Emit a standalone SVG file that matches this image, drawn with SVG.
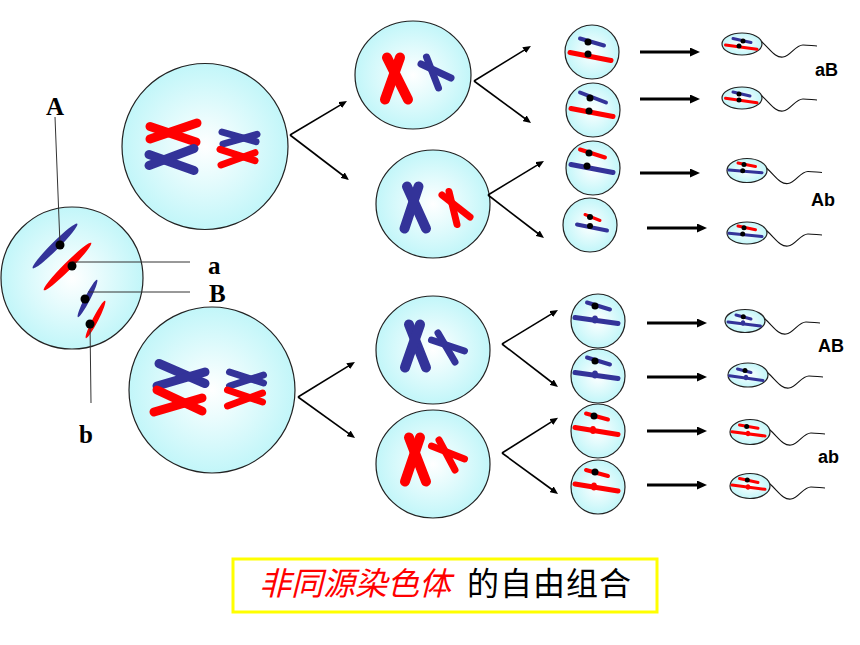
<svg xmlns="http://www.w3.org/2000/svg" xmlns:xlink="http://www.w3.org/1999/xlink" width="860" height="645" viewBox="0 0 860 645">
<defs>
<radialGradient id="cellg" cx="50%" cy="50%" r="50%">
<stop offset="0" stop-color="#FFFFFF"/>
<stop offset="1" stop-color="#C2F6F9"/>
</radialGradient>
<marker id="ah" viewBox="0 0 10 9" markerWidth="10" markerHeight="9" refX="4" refY="4.5" markerUnits="userSpaceOnUse" orient="auto"><path d="M0,0 L10,4.5 L0,9 z" fill="#000"/></marker>
<marker id="ab" viewBox="0 0 8 7" markerWidth="8" markerHeight="7" refX="3" refY="3.5" markerUnits="userSpaceOnUse" orient="auto"><path d="M0,0 L8,3.5 L0,7 z" fill="#000"/></marker>
<path id="tail" d="M19,-3 C29,6 33,14 41,13 C49,12 53,1 61,1 C67,1 71,2 75,2" fill="none" stroke="#111" stroke-width="1.1"/>
</defs>
<style>
.cell{fill:url(#cellg);stroke:#222;stroke-width:1.2}
.r{stroke:#FF0000;stroke-linecap:round;fill:none}
.b{stroke:#333399;stroke-linecap:round;fill:none}
.rf{fill:#FF0000}
.bf{fill:#333399}
.dot{fill:#000}
.w10{stroke-width:10}.w9{stroke-width:9}.w7{stroke-width:7}.w6{stroke-width:6}.w5{stroke-width:5}.w4{stroke-width:4}.w3{stroke-width:3}
.lead{stroke:#333;stroke-width:1;fill:none}
.lbl{font-family:"Liberation Serif",serif;font-weight:bold;font-size:25px;fill:#000}
.gl{font-family:"Liberation Sans",Arial,sans-serif;font-weight:bold;font-size:18px;fill:#000}
.ha{stroke:#000;stroke-width:3;marker-end:url(#ah)}
.ba{stroke:#000;stroke-width:1.6;marker-end:url(#ab)}
</style>
<rect width="860" height="645" fill="#fff"/>

<g id="parent-cell">
<circle class="cell" cx="72" cy="278" r="71"/>
<ellipse class="bf" cx="55" cy="246" rx="31.5" ry="3.8" transform="rotate(-45 55 246)"/>
<ellipse class="rf" cx="67.5" cy="266.5" rx="33.5" ry="3.8" transform="rotate(-45 67.5 266.5)"/>
<ellipse class="bf" cx="87.5" cy="298.5" rx="21" ry="2.8" transform="rotate(-62.8 87.5 298.5)"/>
<ellipse class="rf" cx="95.5" cy="319.5" rx="21" ry="2.8" transform="rotate(-62.8 95.5 319.5)"/>
<line class="lead" x1="55" y1="117" x2="60" y2="245"/>
<line class="lead" x1="72" y1="262" x2="190" y2="262"/>
<line class="lead" x1="88" y1="292" x2="190" y2="292"/>
<line class="lead" x1="90" y1="324" x2="91" y2="403"/>
<circle class="dot" cx="60" cy="245" r="4.5"/>
<circle class="dot" cx="72" cy="266" r="4.5"/>
<circle class="dot" cx="85" cy="299" r="4.5"/>
<circle class="dot" cx="90" cy="324" r="4.5"/>
<text class="lbl" x="46" y="115">A</text>
<text class="lbl" x="208" y="274">a</text>
<text class="lbl" x="209" y="302">B</text>
<text class="lbl" x="79" y="443">b</text>
</g>

<g id="meiosis1-top">
<circle class="cell" cx="205" cy="146.5" r="83"/>
<line class="r w9" x1="150" y1="126.5" x2="196" y2="142"/>
<line class="r w9" x1="150" y1="139" x2="197" y2="123"/>
<line class="b w9" x1="149" y1="154.5" x2="194" y2="170.5"/>
<line class="b w9" x1="149" y1="165.5" x2="194" y2="148.5"/>
<line class="b w7" x1="222" y1="132" x2="256" y2="141.7"/>
<line class="b w7" x1="223" y1="144" x2="257" y2="134.3"/>
<line class="r w7" x1="220" y1="149.3" x2="255" y2="160.7"/>
<line class="r w7" x1="221" y1="165" x2="255" y2="152.7"/>
</g>

<g id="meiosis1-bottom">
<circle class="cell" cx="212" cy="390" r="83"/>
<line class="b w9" x1="159" y1="363.5" x2="205" y2="383.5"/>
<line class="b w9" x1="157" y1="386" x2="205" y2="372"/>
<line class="r w9" x1="157" y1="390" x2="202" y2="411"/>
<line class="r w9" x1="154" y1="412" x2="202" y2="398"/>
<line class="b w7" x1="229.5" y1="372" x2="263.5" y2="383"/>
<line class="b w7" x1="229.5" y1="386" x2="263.5" y2="375"/>
<line class="r w7" x1="227.5" y1="390" x2="262.5" y2="402"/>
<line class="r w7" x1="227.5" y1="406" x2="262.5" y2="393"/>
</g>

<g id="meiosis2-1">
<ellipse class="cell" cx="413" cy="75" rx="58" ry="54"/>
<line class="r w10" x1="387" y1="57.5" x2="408" y2="99.5"/>
<line class="r w10" x1="400" y1="57.5" x2="385" y2="99.5"/>
<line class="b w7" x1="421" y1="64" x2="451" y2="78"/>
<line class="b w7" x1="426.5" y1="57" x2="438.5" y2="88"/>
</g>

<g id="meiosis2-2">
<ellipse class="cell" cx="433" cy="204" rx="57" ry="54"/>
<line class="b w10" x1="407" y1="186.5" x2="426" y2="228.5"/>
<line class="b w10" x1="418.5" y1="186.5" x2="404.5" y2="228.5"/>
<line class="r w7" x1="442" y1="195" x2="470" y2="217"/>
<line class="r w7" x1="449" y1="191.5" x2="457" y2="224.5"/>
</g>

<g id="meiosis2-3">
<ellipse class="cell" cx="433" cy="350" rx="57" ry="54"/>
<line class="b w10" x1="409" y1="324.5" x2="426" y2="367.5"/>
<line class="b w10" x1="420" y1="324.5" x2="405" y2="367.5"/>
<line class="b w7" x1="431.5" y1="340" x2="464.5" y2="351"/>
<line class="b w7" x1="438" y1="333" x2="455" y2="362"/>
</g>

<g id="meiosis2-4">
<ellipse class="cell" cx="433" cy="464" rx="57" ry="54"/>
<line class="r w10" x1="409" y1="437.5" x2="426" y2="481.5"/>
<line class="r w10" x1="420" y1="437.5" x2="405" y2="481.5"/>
<line class="r w7" x1="431.5" y1="446" x2="464.5" y2="459"/>
<line class="r w7" x1="439" y1="440" x2="455" y2="470"/>
</g>

<g id="spermatid-1">
<circle class="cell" cx="592" cy="52" r="27"/>
<line class="b w4" x1="580" y1="38.5" x2="604" y2="45.5"/>
<line class="r w5" x1="570" y1="52.5" x2="611" y2="60.5"/>
<circle class="dot" cx="588" cy="42" r="3.5"/><circle class="dot" cx="588" cy="54" r="3.5"/>
</g>
<g id="spermatid-2">
<circle class="cell" cx="593" cy="110" r="27"/>
<line class="b w4" x1="580" y1="92.5" x2="606" y2="102.5"/>
<line class="r w5" x1="571" y1="108.5" x2="613" y2="116.5"/>
<circle class="dot" cx="590" cy="98" r="3.5"/><circle class="dot" cx="589" cy="111" r="3.5"/>
</g>
<g id="spermatid-3">
<circle class="cell" cx="593" cy="168" r="27"/>
<line class="r w4" x1="580" y1="149.5" x2="605" y2="157.5"/>
<line class="b w5" x1="571" y1="164.5" x2="613" y2="172.5"/>
<circle class="dot" cx="589" cy="153" r="3.5"/><circle class="dot" cx="587" cy="166" r="3.5"/>
</g>
<g id="spermatid-4">
<circle class="cell" cx="590" cy="225" r="27"/>
<line class="r w3" x1="585" y1="214.5" x2="600" y2="220.5"/>
<line class="b w4" x1="577" y1="224.5" x2="607" y2="230.5"/>
<circle class="dot" cx="590" cy="217" r="3"/><circle class="dot" cx="590" cy="226" r="3"/>
</g>
<g id="spermatid-5">
<circle class="cell" cx="598" cy="321" r="27"/>
<line class="b w4" x1="587" y1="302.5" x2="610" y2="309.5"/>
<line class="b w5" x1="575" y1="317.5" x2="618" y2="323.5"/>
<ellipse class="bf" cx="595" cy="319.5" rx="3" ry="4"/>
<circle class="dot" cx="595" cy="306" r="3.5"/>
</g>
<g id="spermatid-6">
<circle class="cell" cx="598" cy="376" r="27"/>
<line class="b w4" x1="587" y1="357.5" x2="610" y2="364.5"/>
<line class="b w5" x1="575" y1="372.5" x2="618" y2="378.5"/>
<ellipse class="bf" cx="595" cy="374.5" rx="3" ry="4"/>
<circle class="dot" cx="595" cy="361" r="3.5"/>
</g>
<g id="spermatid-7">
<circle class="cell" cx="598" cy="431" r="27"/>
<line class="r w4" x1="586" y1="413.5" x2="608" y2="419.5"/>
<line class="r w5" x1="575" y1="427.5" x2="618" y2="434.5"/>
<ellipse class="rf" cx="593" cy="430" rx="3" ry="4"/>
<circle class="dot" cx="594" cy="416" r="3.5"/>
</g>
<g id="spermatid-8">
<circle class="cell" cx="598" cy="487" r="27"/>
<line class="r w4" x1="586" y1="470" x2="608" y2="476"/>
<line class="r w5" x1="575" y1="484" x2="618" y2="491"/>
<ellipse class="rf" cx="594" cy="486.5" rx="3" ry="4"/>
<circle class="dot" cx="595" cy="472" r="3.5"/>
</g>

<g id="sperm-1">
<use xlink:href="#tail" href="#tail" transform="translate(742,44)"/>
<ellipse class="cell" cx="742" cy="44" rx="20" ry="11"/>
<line class="b w3" x1="733" y1="38.5" x2="751" y2="42.5"/>
<line class="r w3" x1="725.5" y1="45" x2="757" y2="49.3"/>
<circle class="dot" cx="743" cy="41" r="2.5"/><circle class="dot" cx="739" cy="46" r="2.5"/>
</g>
<g id="sperm-2">
<use xlink:href="#tail" href="#tail" transform="translate(742,98)"/>
<ellipse class="cell" cx="742" cy="98" rx="20" ry="11"/>
<line class="b w3" x1="733" y1="92" x2="750" y2="96"/>
<line class="r w3" x1="725.5" y1="98.3" x2="757" y2="102.7"/>
<circle class="dot" cx="739" cy="94" r="2.5"/><circle class="dot" cx="739" cy="100" r="2.5"/>
</g>
<g id="sperm-3">
<use xlink:href="#tail" href="#tail" transform="translate(747,170.5)"/>
<ellipse class="cell" cx="747" cy="170.5" rx="20" ry="12"/>
<line class="r w3" x1="738" y1="163" x2="755.5" y2="166.5"/>
<line class="b w3" x1="729" y1="170" x2="762" y2="172.7"/>
<circle class="dot" cx="744" cy="164.5" r="2.5"/><circle class="dot" cx="742.7" cy="170.7" r="2.5"/>
</g>
<g id="sperm-4">
<use xlink:href="#tail" href="#tail" transform="translate(747,233)"/>
<ellipse class="cell" cx="747" cy="233" rx="20" ry="11"/>
<line class="r w3" x1="738" y1="226" x2="755.5" y2="229.8"/>
<line class="b w3" x1="729" y1="233.3" x2="762" y2="236.5"/>
<circle class="dot" cx="744" cy="227.7" r="2.5"/><circle class="dot" cx="742.7" cy="234" r="2.5"/>
</g>
<g id="sperm-5">
<use xlink:href="#tail" href="#tail" transform="translate(745,321)"/>
<ellipse class="cell" cx="745" cy="321" rx="20" ry="11.5"/>
<line class="b w3" x1="736" y1="315" x2="751" y2="319"/>
<line class="b w3" x1="728" y1="322" x2="760.5" y2="326"/>
<ellipse class="bf" cx="743" cy="323" rx="2.2" ry="2.8"/>
<circle class="dot" cx="743.3" cy="316.7" r="2.5"/>
</g>
<g id="sperm-6">
<use xlink:href="#tail" href="#tail" transform="translate(748,375)"/>
<ellipse class="cell" cx="748" cy="375" rx="20" ry="12"/>
<line class="b w3" x1="737.5" y1="369" x2="751" y2="372.5"/>
<line class="b w3" x1="729.5" y1="375.8" x2="763" y2="380.5"/>
<ellipse class="bf" cx="746" cy="377.5" rx="2.2" ry="2.8"/>
<circle class="dot" cx="745" cy="370.5" r="2.5"/>
</g>
<g id="sperm-7">
<use xlink:href="#tail" href="#tail" transform="translate(750,432)"/>
<ellipse class="cell" cx="750" cy="432" rx="20" ry="12.5"/>
<line class="r w3" x1="739.5" y1="425" x2="758" y2="428.3"/>
<line class="r w3" x1="732" y1="431.7" x2="765" y2="436"/>
<ellipse class="rf" cx="748" cy="433.5" rx="2.2" ry="2.8"/>
<circle class="dot" cx="746.7" cy="426.5" r="2.5"/>
</g>
<g id="sperm-8">
<use xlink:href="#tail" href="#tail" transform="translate(750,486)"/>
<ellipse class="cell" cx="750" cy="486" rx="20" ry="12.5"/>
<line class="r w3" x1="739.5" y1="478.5" x2="758" y2="482.5"/>
<line class="r w3" x1="732" y1="485" x2="765" y2="489.3"/>
<ellipse class="rf" cx="748" cy="487" rx="2.2" ry="2.8"/>
<circle class="dot" cx="747.3" cy="480" r="2.5"/>
</g>

<g id="genotype-labels">
<text class="gl" x="815" y="76">aB</text>
<text class="gl" x="811" y="206">Ab</text>
<text class="gl" x="818" y="352">AB</text>
<text class="gl" x="818" y="463">ab</text>
</g>

<g id="connectors">
<line class="ba" x1="290" y1="135" x2="342.7" y2="103.6"/>
<line class="ba" x1="290" y1="135" x2="345" y2="177"/>
<line class="ba" x1="298" y1="397" x2="350.7" y2="364.6"/>
<line class="ba" x1="298" y1="397" x2="351" y2="435.1"/>
<line class="ba" x1="474" y1="81" x2="526.7" y2="48.6"/>
<line class="ba" x1="474" y1="81" x2="527" y2="120"/>
<line class="ba" x1="488" y1="195" x2="539.7" y2="163.6"/>
<line class="ba" x1="488" y1="195" x2="540" y2="235"/>
<line class="ba" x1="502" y1="344" x2="553.7" y2="312.6"/>
<line class="ba" x1="502" y1="344" x2="554" y2="384"/>
<line class="ba" x1="502" y1="453" x2="553.8" y2="420.4"/>
<line class="ba" x1="502" y1="453" x2="554" y2="491"/>
<line class="ha" x1="640" y1="52" x2="694" y2="52"/>
<line class="ha" x1="640" y1="99" x2="694" y2="99"/>
<line class="ha" x1="640" y1="173" x2="694" y2="173"/>
<line class="ha" x1="647" y1="228" x2="701" y2="228"/>
<line class="ha" x1="647" y1="323" x2="701" y2="323"/>
<line class="ha" x1="647" y1="377" x2="701" y2="377"/>
<line class="ha" x1="647" y1="431" x2="701" y2="431"/>
<line class="ha" x1="647" y1="485" x2="701" y2="485"/>
</g>

<g id="caption">
<rect x="233" y="559" width="424" height="53" fill="#fff" stroke="#FFFF00" stroke-width="3"/>
<text x="259" y="595" font-family="'Noto Sans CJK SC',sans-serif" font-size="32" font-style="italic" fill="#FF0000">非同源染色体</text>
<text x="467" y="595" font-family="'Noto Sans CJK SC',sans-serif" font-size="32" letter-spacing="1" fill="#000">的自由组合</text>
</g>
</svg>
